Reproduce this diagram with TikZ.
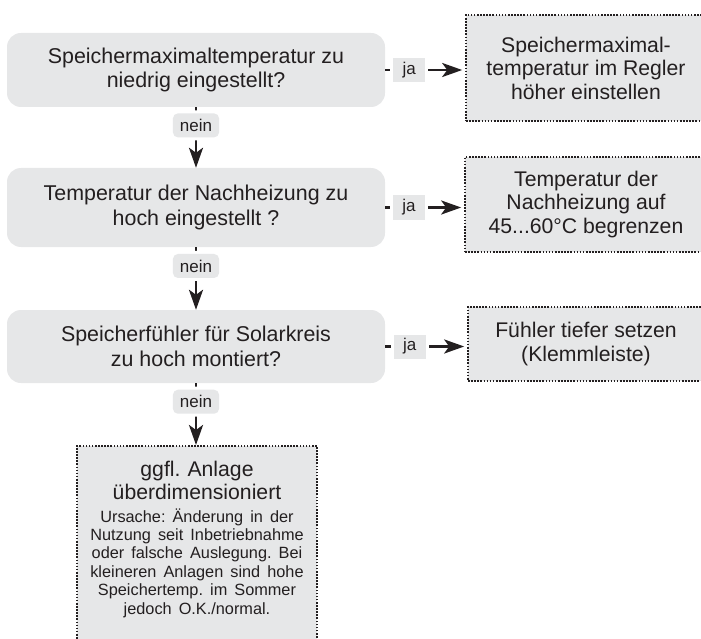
\documentclass[tikz,border=0pt]{standalone}
\usepackage{fontspec}
\setmainfont{Liberation Sans}
\usetikzlibrary{arrows.meta}
\definecolor{boxfill}{RGB}{230,231,232}
\definecolor{ink}{RGB}{35,31,32}

\begin{document}
\frenchspacing
\begin{tikzpicture}[x=1pt,y=-1pt,
  every node/.style={text=ink},
  question/.style={fill=boxfill, rounded corners=14pt, align=center,
    font=\fontsize{21.4}{24.5}\selectfont, minimum width=378pt, inner sep=0pt},
  action/.style={fill=boxfill, draw=ink, line width=1.6pt,
    dash pattern=on 1.6pt off 1.5pt, align=center,
    font=\fontsize{21.2}{23.5}\selectfont, inner sep=0pt},
  flow/.style={draw=ink, line width=2.8pt,
    -{Stealth[length=20pt,width=14pt,inset=5pt]}},
  answer/.style={pos=0.3, fill=boxfill, preaction={draw=white, line width=6pt},
    font=\fontsize{17}{20}\selectfont, minimum height=24pt, inner sep=0pt,
    inner xsep=7pt, solid},
  no/.style={answer, rounded corners=5pt},
  yes/.style={answer, minimum width=32pt}
]
\useasboundingbox (0,0) rectangle (701,639);

% questions
\node[question, minimum height=74pt] (q1) at (196,70)
  {Speichermaximaltemperatur zu\\niedrig eingestellt?};
\node[question, minimum height=79pt] (q2) at (196,207.5)
  {Temperatur der Nachheizung zu\\hoch eingestellt ?};
\node[question, minimum height=73pt] (q3) at (196,346.5)
  {Speicherfühler für Solarkreis\\zu hoch montiert?};

% actions
\node[action, minimum width=240pt, minimum height=106pt] (a1) at (586,68)
  {Speichermaximal-\\temperatur im Regler\\höher einstellen};
\node[action, minimum width=242pt, minimum height=95pt] (a2) at (586,204.5)
  {Temperatur der\\Nachheizung auf\\45...60°C begrenzen};
\node[action, minimum width=236pt, minimum height=74pt] (a3) at (586,344)
  {Fühler tiefer setzen\\(Klemmleiste)};
\node[action, anchor=north, text width=226pt, inner xsep=7pt, inner ysep=15pt]
  (a4) at (197,445)
  {{\fontsize{21.2}{23}\selectfont ggfl. Anlage\\überdimensioniert\par}
   \vspace{4.5pt}
   {\fontsize{16.3}{18.4}\selectfont Ursache: Änderung in der\\
    Nutzung seit Inbetriebnahme\\
    oder falsche Auslegung. Bei\\
    kleineren Anlagen sind hohe\\
    Speichertemp. im Sommer\\
    jedoch O.K./normal.\rule[-60pt]{0pt}{60pt}\par}};

% "nein" branches
\draw[flow] (q1) -- node[no] {nein} (q2);
\draw[flow] (q2) -- node[no] {nein} (q3);
\draw[flow] (q3.south) -- node[no] {nein} (q3.south |- a4.north);

% "ja" branches
\draw[flow, shorten >=3pt] (q1.east) -- node[yes] {ja} (q1.east -| a1.west);
\draw[flow, shorten >=3pt] (q2.east) -- node[yes] {ja} (q2.east -| a2.west);
\draw[flow, shorten >=3pt] (q3.east) -- node[yes] {ja} (q3.east -| a3.west);
\end{tikzpicture}
\end{document}
